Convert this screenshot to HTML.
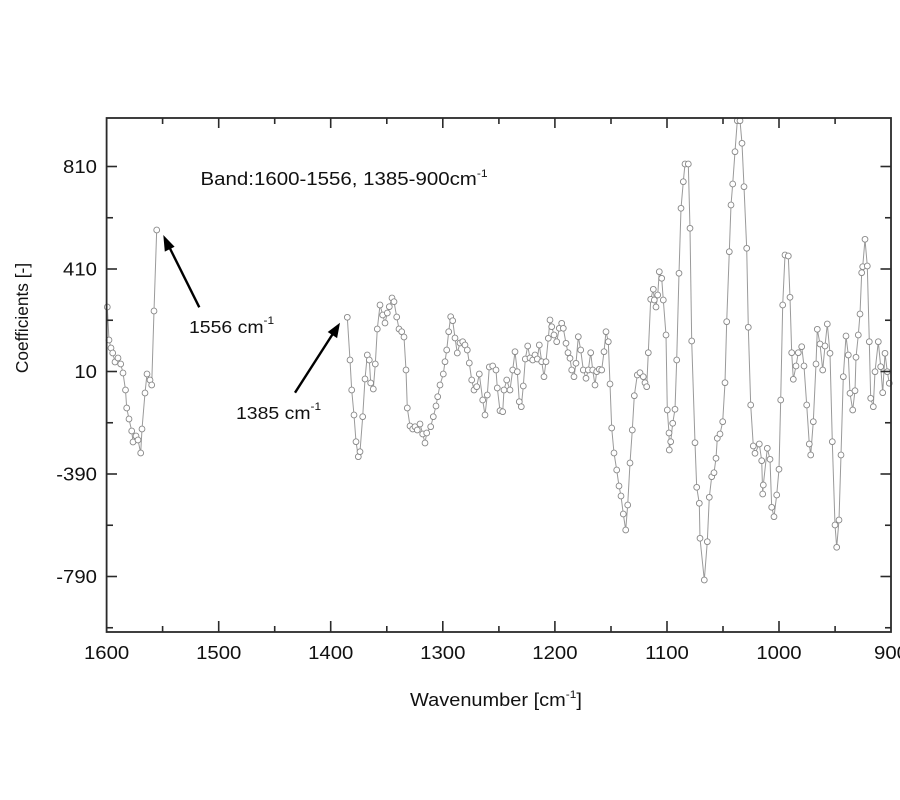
<!DOCTYPE html>
<html>
<head>
<meta charset="utf-8">
<style>
  html, body { margin: 0; padding: 0; background: #fff; }
  svg { display: block; }
  text { font-family: "Liberation Sans", Arial, sans-serif; fill: #111; }
</style>
</head>
<body>
<svg width="900" height="800" viewBox="0 0 900 800" xmlns="http://www.w3.org/2000/svg">
  <defs>
    <marker id="m" markerWidth="8" markerHeight="8" refX="4" refY="4" markerUnits="userSpaceOnUse">
      <circle cx="4" cy="4" r="2.9" fill="#fff" stroke="#888" stroke-width="0.9"/>
    </marker>
  </defs>
  <rect x="0" y="0" width="900" height="800" fill="#fff"/>

  <!-- data series -->
  <g fill="none" stroke="#9a9a9a" stroke-width="1" marker-start="url(#m)" marker-mid="url(#m)" marker-end="url(#m)">
    <polyline points="107.3,307 109,340 111,348 112.7,353 115,362 118,358 120.7,364 123,373 125.5,390 126.7,408 129,419 131.7,431 133,442 136,436 138,440 140.7,453 142,429 145,393 147,374 150,380 151.7,385 154,311 156.7,230"/>
    <polyline points="347.3,317.3 350,360 351.7,390 354,415 356,441.7 358.3,456.7 360,451.7 362.7,416.7 365,379 367.3,355 369.3,360 370.7,383 373.3,389 375.3,364 377.3,329 380,305 382.7,315 385,323 387.3,313 389.3,306.7 392,298 394,301.7 396.7,317 399,329 401.7,331.7 404,337 406,370 407.3,408 410,426 412.7,429 415,426.7 417.3,430 420,424 422.7,434 425,443 426.7,433 430.7,426.7 433.3,416.7 436,406 437.7,396.7 440,385 443.3,374 445,361.7 446.7,350 448.7,331.7 450.7,316.7 452.7,320.7 455,338 457.3,353 460,343 462.7,341.7 465,345 467.3,350 469.3,363 471.7,380 474,390 476.7,386.7 479.3,374 482.7,400 485,415 487.3,395 489.3,367 492.7,366 496,370 497.3,388 500,410.7 502.7,411.7 504,390 506.7,380 510,390 512.7,370 515,351.7 517.3,371.7 519.3,401.7 521.3,406.7 523.3,386 525.3,359 527.7,346 530,358 532.7,360 535,355 537.3,359 539.3,345 541.7,361.7 544,376.7 546,361.7 548.3,338.3 550,320 551.7,326.7 554,335 556.7,341.7 559.3,328.3 561.7,323.3 563.3,328.3 566,343.3 568,352.7 570,358.3 571.7,370 574,376.7 576,363.3 578.3,336.7 580.7,350 583.3,370 586,378.3 588.3,370 590.7,352.7 592.7,370 595,385 596.7,371.7 599.3,369.3 601.7,370 604,351.7 606,331.7 608.3,341.7 610,384 611.7,428 614,453 616.7,470 619,486 621,496 623.3,514 625.7,530 627.7,505 630,463 632.3,430 634.3,395.7 637.3,375 640,372.7 643.3,376.7 645,382.7 646.7,386.7 648.3,352.7 650.7,299.3 653.3,289.3 654.3,300 656,307 657.7,295 659.3,271.7 661.7,278.3 663.3,300 666,335 667.3,410 669,433 669.3,450 670.7,441.7 672.7,423.3 675,409.3 676.7,360 679,273.3 681,208.3 683.3,181.7 685,164 688.3,164 690,228.3 691.7,341 695,442.7 696.7,487.3 699.3,503.3 700,538.3 704.3,580 707.3,541.7 709.3,497.3 711.7,476.7 714,472.7 716,458.3 717.3,438.3 720,434 722.7,421.7 725,382.7 726.7,321.7 729.3,251.7 731,205 732.7,184 735,151.7 737.3,120.7 740,120.7 742,143.3 744,186.7 746.7,248.3 748.3,327.3 750.7,405 753.3,446 755,453.3 759.3,444 761.7,460.7 762.7,494 763.3,485 767.3,448.3 770,459.3 771.7,507.3 774,516.7 776.7,495 779,469.3 780.7,400 782.7,305 785,255 788.3,256 790,297.3 791.7,352.7 793.3,379.3 796,366 798.3,352.7 801.7,346.7 804,366 806.7,405 809.3,444 810.7,455 813.3,421.7 816,364 817.3,329.3 820,344 822.7,370 825,346 827.3,324 830,353.3 832.3,441.7 835,525 836.7,547.3 839,520 841,455 843.3,376.7 846,336 848.3,355 850,393.3 852.7,410 855,390.7 856,357.3 858.3,335 860,314 861.7,272.7 862.7,266.7 865,239.3 867.3,266 869.3,341.7 870.7,398.3 873.3,406.7 875,371.7 878.3,341.7 880.7,366.7 882.7,392.7 885,353.3 887.3,371.7 889.3,383.3"/>
  </g>

  <!-- frame -->
  <rect x="106.6" y="118" width="784.4" height="514" fill="none" stroke="#2a2a2a" stroke-width="1.8"/>

  <!-- ticks -->
  <g stroke="#2a2a2a" stroke-width="1.6">
    <line x1="218.7" y1="632" x2="218.7" y2="621"/>
    <line x1="330.7" y1="632" x2="330.7" y2="621"/>
    <line x1="442.8" y1="632" x2="442.8" y2="621"/>
    <line x1="554.9" y1="632" x2="554.9" y2="621"/>
    <line x1="667" y1="632" x2="667" y2="621"/>
    <line x1="779" y1="632" x2="779" y2="621"/>
    <line x1="162.6" y1="632" x2="162.6" y2="626"/>
    <line x1="274.7" y1="632" x2="274.7" y2="626"/>
    <line x1="386.8" y1="632" x2="386.8" y2="626"/>
    <line x1="498.9" y1="632" x2="498.9" y2="626"/>
    <line x1="611" y1="632" x2="611" y2="626"/>
    <line x1="723" y1="632" x2="723" y2="626"/>
    <line x1="835.1" y1="632" x2="835.1" y2="626"/>
    <line x1="218.7" y1="118" x2="218.7" y2="128"/>
    <line x1="330.7" y1="118" x2="330.7" y2="128"/>
    <line x1="442.8" y1="118" x2="442.8" y2="128"/>
    <line x1="554.9" y1="118" x2="554.9" y2="128"/>
    <line x1="667" y1="118" x2="667" y2="128"/>
    <line x1="779" y1="118" x2="779" y2="128"/>
    <line x1="162.6" y1="118" x2="162.6" y2="124"/>
    <line x1="274.7" y1="118" x2="274.7" y2="124"/>
    <line x1="386.8" y1="118" x2="386.8" y2="124"/>
    <line x1="498.9" y1="118" x2="498.9" y2="124"/>
    <line x1="611" y1="118" x2="611" y2="124"/>
    <line x1="723" y1="118" x2="723" y2="124"/>
    <line x1="835.1" y1="118" x2="835.1" y2="124"/>
    <line x1="106.6" y1="166.5" x2="117" y2="166.5"/>
    <line x1="106.6" y1="269" x2="117" y2="269"/>
    <line x1="106.6" y1="371.5" x2="117" y2="371.5"/>
    <line x1="106.6" y1="474" x2="117" y2="474"/>
    <line x1="106.6" y1="576.5" x2="117" y2="576.5"/>
    <line x1="106.6" y1="217.75" x2="113" y2="217.75"/>
    <line x1="106.6" y1="320.25" x2="113" y2="320.25"/>
    <line x1="106.6" y1="422.75" x2="113" y2="422.75"/>
    <line x1="106.6" y1="525.25" x2="113" y2="525.25"/>
    <line x1="106.6" y1="627.75" x2="113" y2="627.75"/>
    <line x1="891" y1="166.5" x2="880.5" y2="166.5"/>
    <line x1="891" y1="269" x2="880.5" y2="269"/>
    <line x1="891" y1="371.5" x2="880.5" y2="371.5"/>
    <line x1="891" y1="474" x2="880.5" y2="474"/>
    <line x1="891" y1="576.5" x2="880.5" y2="576.5"/>
    <line x1="891" y1="217.75" x2="885" y2="217.75"/>
    <line x1="891" y1="320.25" x2="885" y2="320.25"/>
    <line x1="891" y1="422.75" x2="885" y2="422.75"/>
    <line x1="891" y1="525.25" x2="885" y2="525.25"/>
    <line x1="891" y1="627.75" x2="885" y2="627.75"/>
  </g>

  <!-- y tick labels -->
  <g font-size="18.5" text-anchor="end">
    <text transform="translate(97 173.1) scale(1.1 1)">810</text>
    <text transform="translate(97 275.6) scale(1.1 1)">410</text>
    <text transform="translate(97 378.1) scale(1.1 1)">10</text>
    <text transform="translate(97 480.6) scale(1.1 1)">-390</text>
    <text transform="translate(97 583.1) scale(1.1 1)">-790</text>
  </g>

  <!-- x tick labels -->
  <g font-size="18.5" text-anchor="middle">
    <text transform="translate(106.6 659) scale(1.1 1)">1600</text>
    <text transform="translate(218.7 659) scale(1.1 1)">1500</text>
    <text transform="translate(330.7 659) scale(1.1 1)">1400</text>
    <text transform="translate(442.8 659) scale(1.1 1)">1300</text>
    <text transform="translate(554.9 659) scale(1.1 1)">1200</text>
    <text transform="translate(667 659) scale(1.1 1)">1100</text>
    <text transform="translate(779 659) scale(1.1 1)">1000</text>
    <text transform="translate(891 659) scale(1.1 1)">900</text>
  </g>

  <!-- axis titles -->
  <text font-size="18.5" transform="translate(410 706) scale(1.08 1)">Wavenumber [cm<tspan font-size="11" dy="-8">-1</tspan><tspan dy="8">]</tspan></text>
  <text font-size="17.3" text-anchor="middle" transform="translate(28 318) rotate(-90)">Coefficients [-]</text>

  <!-- band label -->
  <text font-size="18.6" transform="translate(200.5 185) scale(1.1 1)">Band:1600-1556, 1385-900cm<tspan font-size="11" dy="-8">-1</tspan></text>

  <!-- annotations -->
  <text font-size="18" transform="translate(189 333) scale(1.08 1)">1556 cm<tspan font-size="11" dy="-9">-1</tspan></text>
  <text font-size="18" transform="translate(236 419) scale(1.08 1)">1385 cm<tspan font-size="11" dy="-9">-1</tspan></text>

  <!-- arrows -->
  <g stroke="#000" stroke-width="2.4" fill="#000">
    <line x1="199.3" y1="307.3" x2="169.5" y2="247.5"/>
    <polygon stroke="none" points="163.3,235 174.6,246.8 164.8,251.6"/>
    <line x1="295" y1="392.7" x2="332.4" y2="334.5"/>
    <polygon stroke="none" points="340,322.7 337.1,338.1 327.7,332"/>
  </g>
</svg>
</body>
</html>
